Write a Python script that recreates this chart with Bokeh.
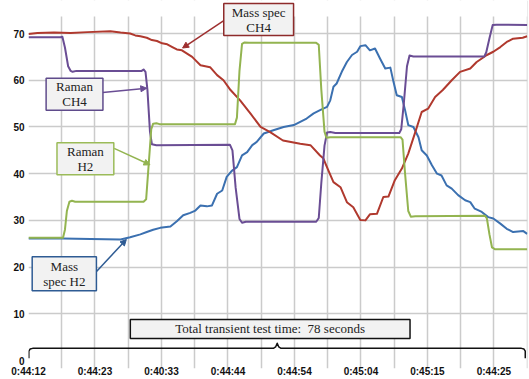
from bokeh.plotting import figure
from bokeh.models import FixedTicker, Label, Arrow, NormalHead, Range1d, CustomJSTickFormatter
from bokeh.embed import file_html
from bokeh.resources import INLINE

# ---------------- data ----------------
time_labels = ["0:44:12", "0:44:23", "0:40:33", "0:44:44", "0:44:54", "0:45:04", "0:45:15", "0:44:25"]
label_step = 10.4          # seconds between labelled ticks
total_seconds = 78
y_ticks = [0, 10, 20, 30, 40, 50, 60, 70]

# Mass spec H2 (blue)
ms_h2_t = [0, 5.3, 9.7, 14.4, 15.9, 17.5, 18.5, 19.5, 20.6, 22.2, 23.2, 24.2, 25.3, 26.1, 26.9,
           27.9, 28.7, 29.5, 30.3, 31.0, 31.8, 32.6, 33.4, 34.2, 35.0, 35.7, 36.8, 38.3, 39.9, 41.5,
           42.5, 43.5, 44.6, 45.6, 46.7, 47.2, 47.7, 48.2, 49.0, 49.8, 50.6, 51.4, 51.9, 52.7, 53.4,
           54.2, 55.0, 55.8, 56.6, 57.1, 57.6, 58.4, 58.9, 59.4, 60.2, 61.0, 61.5, 62.3, 63.1, 63.9,
           64.6, 65.4, 66.2, 67.2, 68.3, 69.1, 69.8, 70.9, 71.9, 72.7, 73.8, 74.8, 75.8, 77.4, 78.0]
ms_h2_v = [26.1, 26.1, 26.0, 25.9, 26.4, 27.0, 27.5, 28.0, 28.4, 28.7, 29.8, 31.1, 31.6, 32.1, 33.2,
           33.0, 33.2, 35.7, 36.4, 39.3, 40.6, 41.4, 43.9, 44.6, 46.1, 46.8, 48.6, 49.3, 50.0, 50.4,
           51.1, 51.8, 52.9, 53.6, 54.3, 55.7, 58.6, 59.3, 61.8, 63.9, 65.4, 66.1, 67.3, 67.5, 66.4,
           66.8, 64.6, 62.5, 62.7, 59.6, 56.8, 56.4, 53.6, 50.4, 50.0, 47.8, 45.0, 43.9, 41.8, 40.0,
           39.6, 37.5, 36.8, 35.4, 34.3, 33.9, 32.5, 31.8, 30.7, 30.4, 29.3, 28.2, 27.5, 27.7, 27.1]

# Mass spec CH4 (red)
ms_ch4_t = [0, 1.4, 4.0, 6.6, 9.2, 12.8, 14.4, 15.9, 16.7, 17.5, 18.5, 19.3, 20.1, 20.9, 21.7,
            22.5, 23.2, 24.0, 24.8, 25.6, 26.1, 26.9, 28.4, 29.5, 30.5, 31.6, 33.1, 34.7, 36.3, 37.8,
            39.8, 42.5, 44.1, 45.6, 46.1, 46.9, 47.7, 48.8, 49.8, 50.8, 51.9, 52.7, 53.4, 54.5, 55.5,
            56.3, 57.3, 58.4, 59.4, 60.5, 61.5, 62.5, 63.6, 64.8, 66.2, 67.5, 69.1, 70.1, 71.7, 72.7,
            73.8, 74.8, 75.8, 77.3, 78.0]
ms_ch4_v = [69.9, 70.1, 70.2, 70.1, 70.3, 70.5, 70.2, 70.0, 69.6, 69.4, 69.1, 68.6, 68.4, 67.9, 67.7,
            67.1, 66.6, 66.4, 65.7, 65.0, 64.3, 63.2, 62.8, 61.1, 60.0, 57.9, 55.7, 52.9, 50.0, 48.9,
            47.1, 46.4, 46.1, 43.9, 43.3, 40.7, 38.2, 37.1, 33.9, 32.8, 30.1, 30.0, 31.3, 31.4, 35.0,
            35.1, 38.6, 41.1, 44.3, 48.9, 53.2, 53.9, 56.4, 57.9, 60.0, 61.8, 62.5, 63.9, 65.4, 66.1,
            67.1, 68.2, 68.9, 69.1, 69.4]

# Raman CH4 (purple)
raman_ch4_t = [0, 5.0, 5.3, 5.7, 6.2, 6.6, 6.9, 7.5, 17.7, 18.0, 18.3, 18.6, 19.0, 19.3, 20.0,
               31.5, 31.9, 32.4, 33.0, 33.4, 34.0, 45.0, 45.4, 45.8, 46.3, 46.7, 47.2, 48.0, 58.0, 58.3,
               58.7, 59.2, 59.6, 60.2, 71.3, 71.6, 72.1, 72.6, 73.2, 78.0]
raman_ch4_v = [69.2, 69.2, 69.3, 67.0, 63.0, 62.0, 61.8, 62.0, 62.0, 62.3, 61.8, 58.0, 49.0, 46.3, 46.1,
               46.2, 45.0, 37.0, 30.3, 29.5, 29.7, 29.7, 30.5, 38.0, 46.0, 48.8, 48.9, 48.7, 48.7, 49.5,
               55.0, 63.0, 65.3, 65.1, 65.1, 66.0, 69.0, 71.8, 71.9, 71.8]

# Raman H2 (green)
raman_h2_t = [0, 5.4, 5.7, 6.0, 6.4, 6.8, 7.3, 18.0, 18.4, 18.8, 19.2, 19.5, 20.0, 20.5, 32.3,
              32.6, 33.0, 33.4, 33.8, 34.5, 45.0, 45.4, 45.8, 46.3, 46.6, 47.2, 58.2, 58.5, 58.9, 59.4,
              59.8, 60.5, 71.4, 71.7, 72.1, 72.5, 73.0, 78.0]
raman_h2_v = [26.3, 26.3, 28.0, 32.0, 34.0, 34.2, 34.0, 34.0, 34.5, 42.0, 49.5, 50.7, 50.8, 50.6, 50.6,
              52.0, 62.0, 67.8, 68.1, 68.0, 68.0, 67.6, 58.0, 49.0, 47.7, 47.8, 47.8, 47.3, 40.0, 32.0,
              30.8, 30.9, 31.0, 30.4, 27.0, 24.2, 23.8, 23.8]

BLUE = "#3b70b0"
RED = "#b0392e"
PURPLE = "#6a4d94"
GREEN = "#93b450"
GRID = "#cbcbcb"

# plotting window: data top edge of the gridded area, and the blank strip above it
y_min, grid_top, y_max = -1.71, 73.64, 77.07
x_max = total_seconds + 0.05

# ---------------- figure ----------------
p = figure(width=529, height=379, output_backend="svg", toolbar_location=None,
           x_range=Range1d(0, x_max), y_range=Range1d(y_min, y_max),
           min_border_left=28, min_border_right=2, min_border_top=0, min_border_bottom=0)
p.outline_line_color = None
p.background_fill_color = "white"

major_x = [i * label_step for i in range(len(time_labels))]
minor_x = [(2 * i + 1) * label_step / 2 for i in range(len(time_labels))]
p.xaxis.ticker = FixedTicker(ticks=major_x, minor_ticks=minor_x)
p.xaxis.formatter = CustomJSTickFormatter(args=dict(labels=time_labels, step=label_step),
                                          code="const i = Math.round(tick/step); return labels[i] || '';")
p.yaxis.ticker = FixedTicker(ticks=y_ticks)

for ax in (p.xaxis, p.yaxis):
    ax.axis_line_color = None
    ax.major_tick_line_color = None
    ax.minor_tick_line_color = None
    ax.major_tick_out = 0
    ax.major_tick_in = 0
    ax.major_label_text_font = "Liberation Sans"
    ax.major_label_text_font_style = "bold"
    ax.major_label_text_font_size = "10px"
    ax.major_label_text_color = "#111111"
p.yaxis.major_label_standoff = 4
p.xaxis.major_label_standoff = -7

p.xgrid.grid_line_color = GRID
p.xgrid.grid_line_width = 1.5
p.xgrid.minor_grid_line_color = GRID
p.xgrid.minor_grid_line_width = 1.5
p.ygrid.ticker = FixedTicker(ticks=y_ticks[1:])
p.ygrid.grid_line_color = GRID
p.ygrid.grid_line_width = 1.5

# blank strip above the gridded area (holds the top callout)
p.quad(left=0, right=x_max, bottom=grid_top, top=y_max, fill_color="white", line_color=None)

p.line(ms_h2_t, ms_h2_v, line_color=BLUE, line_width=2, line_join="round")
p.line(ms_ch4_t, ms_ch4_v, line_color=RED, line_width=2, line_join="round")
p.line(raman_ch4_t, raman_ch4_v, line_color=PURPLE, line_width=2, line_join="round")
p.line(raman_h2_t, raman_h2_v, line_color=GREEN, line_width=2, line_join="round")

# ---------------- callouts ----------------
SERIF = "Liberation Serif"


def callout(text, cx, cy, border, pad_lr, pad_tb, arrow=None, acolor=None, lh=1.0):
    if arrow is not None:
        x0, y0, x1, y1 = arrow
        p.add_layout(Arrow(end=NormalHead(size=6, fill_color=acolor, line_color=acolor, line_width=1),
                           x_start=x0, y_start=y0, x_end=x1, y_end=y1,
                           line_color=acolor, line_width=1.5))
    p.add_layout(Label(x=cx, y=cy, text=text, text_align="center", text_baseline="middle",
                       text_font=SERIF, text_font_size="13px", text_color="#222222",
                       text_line_height=lh,
                       background_fill_color="#f2f2f2", border_line_color=border,
                       border_line_width=1.5,
                       padding=dict(left=pad_lr, right=pad_lr, top=pad_tb, bottom=pad_tb)))


callout("Mass spec\nCH4", 36.0, 73.0, "#8e2b2b", 8, 1, (30.6, 72.8, 24.1, 66.9), "#9e2f2f")
callout("Raman\nCH4", 7.2, 57.0, "#5f4b8b", 10, 1, (11.6, 57.4, 18.5, 58.3), PURPLE)
callout("Raman\nH2", 8.9, 43.2, "#9bbb59", 10, 1, (13.4, 45.4, 19.0, 41.9), GREEN)
callout("Mass\nspec H2", 5.6, 18.6, "#2e5b93", 11, 2, (10.6, 19.0, 15.3, 25.9), "#2e5b93")
callout("Total transient test time:\u00a0 78 seconds", 37.8, 6.75, "#111111", 45, 2, lh=1.2)

# bracket under the whole test
b_left, b_right, b_mid = 0.05, 77.7, 38.9
b_y, b_end, b_peak = 2.6, 0.5, 3.7
brace_x = [b_left, b_left, b_left + 0.2, b_left + 0.6, b_mid - 0.6, b_mid - 0.25, b_mid, b_mid + 0.25,
           b_mid + 0.6, b_right - 0.6, b_right - 0.2, b_right, b_right]
brace_y = [b_end, b_y - 0.6, b_y - 0.15, b_y, b_y, b_y + 0.3, b_peak, b_y + 0.3,
           b_y, b_y, b_y - 0.15, b_y - 0.6, b_end]
p.line(brace_x, brace_y, line_color="#111111", line_width=1.5, line_join="round")

open("out.html", "w").write(file_html(p, INLINE))
